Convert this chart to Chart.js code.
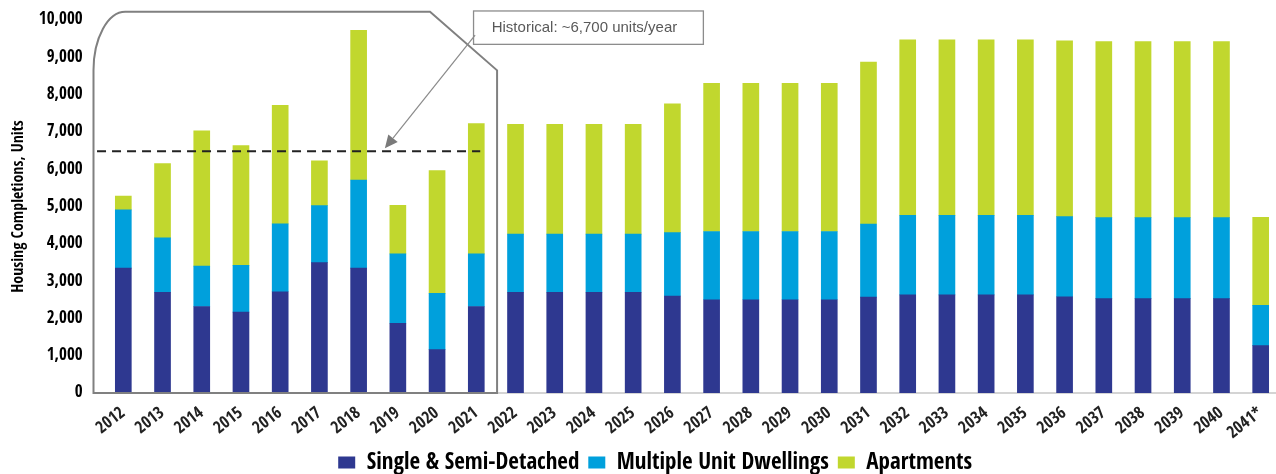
<!DOCTYPE html>
<html>
<head>
<meta charset="utf-8">
<script src="https://cdn.jsdelivr.net/npm/chart.js@4/dist/chart.umd.min.js"></script>
<style>
  html, body { margin: 0; padding: 0; background: #fff; overflow: hidden; }
  #wrap { position: relative; width: 1290px; height: 484px; }
</style>
</head>
<body>
<div id="wrap"><canvas id="c"></canvas></div>
<script>
// ---- data ----
const years = ['2012','2013','2014','2015','2016','2017','2018','2019','2020','2021',
  '2022','2023','2024','2025','2026','2027','2028','2029','2030','2031',
  '2032','2033','2034','2035','2036','2037','2038','2039','2040','2041*'];
const singleSemi = [3350,2700,2320,2170,2715,3495,3350,1870,1165,2320,
  2700,2700,2700,2700,2600,2500,2500,2500,2500,2570,
  2630,2630,2630,2630,2580,2530,2530,2530,2530,1270];
const multipleUnit = [1560,1460,1080,1250,1820,1530,2360,1860,1505,1410,
  1560,1560,1560,1560,1700,1830,1830,1830,1830,1960,
  2130,2130,2130,2130,2150,2170,2170,2170,2170,1080];
const apartments = [370,1990,3630,3210,3180,1200,4010,1300,3290,3490,
  2940,2940,2940,2940,3450,3970,3970,3970,3970,4340,
  4710,4710,4710,4710,4710,4720,4720,4720,4720,2360];
const yTicks = [0,1000,2000,3000,4000,5000,6000,7000,8000,9000,10000];
const historicalAvgLine = 6480;
const annotationText = 'Historical: ~6,700 units/year';
const seriesNames = ['Single & Semi-Detached','Multiple Unit Dwellings','Apartments'];
const seriesColors = ['#2E3890','#00A0DC','#C1D72E'];

const COND = "'Open Sans Condensed', 'Roboto Condensed', 'DejaVu Sans Condensed', sans-serif";

const overlay = {
  id: 'overlay',
  beforeDraw(chart) {
    const lg = chart.legend;
    if (lg && !lg._shifted) { lg.left += 15; lg.right += 15; lg._shifted = true; }
  },
  afterDatasetsDraw(chart) {
    const ctx = chart.ctx;
    const x = chart.scales.x, y = chart.scales.y;
    const step = x.getPixelForValue(1) - x.getPixelForValue(0);
    const xp = (i, f) => x.getPixelForValue(i) + f * step;

    // historical bracket box
    const L = xp(0, -0.76), R = xp(9, 0.53);
    const T = y.getPixelForValue(10220), B = y.getPixelForValue(0);
    const cornerY = y.getPixelForValue(8650);
    const rx = xp(1, -0.95) - L, ry = cornerY - T;
    const chamferX = xp(8, -0.18);
    ctx.save();
    ctx.strokeStyle = '#808080';
    ctx.lineWidth = 2;
    ctx.beginPath();
    ctx.moveTo(L, B);
    ctx.lineTo(L, cornerY);
    ctx.bezierCurveTo(L, cornerY - ry*0.55, L + rx - rx*0.55, T, L + rx, T);
    ctx.lineTo(chamferX, T);
    ctx.lineTo(R, cornerY);
    ctx.lineTo(R, B);
    ctx.closePath();
    ctx.stroke();

    // dashed average line
    const ly = y.getPixelForValue(historicalAvgLine);
    ctx.strokeStyle = '#222';
    ctx.lineWidth = 2;
    ctx.setLineDash([9, 6]);
    ctx.beginPath();
    ctx.moveTo(xp(0, -0.67), ly);
    ctx.lineTo(xp(9, 0.1), ly);
    ctx.stroke();
    ctx.setLineDash([]);

    // annotation box
    const bL = xp(8, 0.93), bR = xp(14, 0.79);
    const bT = y.getPixelForValue(10242), bB = y.getPixelForValue(9347);
    ctx.fillStyle = '#fff';
    ctx.fillRect(bL, bT, bR - bL, bB - bT);
    ctx.strokeStyle = '#8c8c8c';
    ctx.lineWidth = 1.3;
    ctx.strokeRect(bL, bT, bR - bL, bB - bT);
    ctx.fillStyle = '#595959';
    ctx.font = "15px 'Liberation Sans', Arial, sans-serif";
    ctx.textAlign = 'center';
    ctx.textBaseline = 'middle';
    ctx.fillText(annotationText, (bL + bR) / 2 - 4, (bT + bB) / 2);

    // arrow
    const ax0 = xp(8, 0.97), ay0 = y.getPixelForValue(9597);
    const ax1 = xp(6, 0.67), ay1 = y.getPixelForValue(6560);
    const ang = Math.atan2(ay1 - ay0, ax1 - ax0);
    const head = 13, hw = 6;
    ctx.strokeStyle = '#8a8a8a';
    ctx.fillStyle = '#7a7a7a';
    ctx.lineWidth = 1.2;
    ctx.beginPath();
    ctx.moveTo(ax0, ay0);
    ctx.lineTo(ax1 - head * Math.cos(ang), ay1 - head * Math.sin(ang));
    ctx.stroke();
    ctx.beginPath();
    ctx.moveTo(ax1, ay1);
    ctx.lineTo(ax1 - head*Math.cos(ang) + hw*Math.sin(ang), ay1 - head*Math.sin(ang) - hw*Math.cos(ang));
    ctx.lineTo(ax1 - head*Math.cos(ang) - hw*Math.sin(ang), ay1 - head*Math.sin(ang) + hw*Math.cos(ang));
    ctx.closePath();
    ctx.fill();
    ctx.restore();
  }
};

const mk = (i, data) => ({
  label: seriesNames[i], data, backgroundColor: seriesColors[i],
  borderWidth: 0, barThickness: 16, stack: 's'
});

new Chart(document.getElementById('c'), {
  type: 'bar',
  data: {
    labels: years,
    datasets: [mk(0, singleSemi), mk(1, multipleUnit), mk(2, apartments)]
  },
  options: {
    responsive: true,
    maintainAspectRatio: false,
    animation: false,
    layout: { padding: { left: 0, right: 9.7, top: 20, bottom: 0 } },
    plugins: {
      tooltip: { enabled: false },
      legend: {
        position: 'bottom',
        labels: {
          boxWidth: 17, boxHeight: 12, padding: 9, color: '#000',
          font: { family: COND, size: 23 }
        }
      }
    },
    scales: {
      x: {
        stacked: true,
        grid: { display: false, drawTicks: false },
        border: { display: true, color: '#d4d4d4', width: 2 },
        ticks: { color: '#222', font: { family: COND, size: 17 }, minRotation: 38, maxRotation: 38, padding: 10, autoSkip: false },
        afterFit(s) { s.height = 49; }
      },
      y: {
        stacked: true,
        min: 0, max: 10000,
        afterBuildTicks(s) { s.ticks = yTicks.map(v => ({ value: v })); },
        grid: { display: false, drawTicks: true, tickLength: 19 },
        border: { display: false },
        ticks: { color: '#000', font: { family: COND, size: 17 }, padding: 2,
          callback: v => v.toLocaleString('en-US') },
        title: { display: true, text: 'Housing Completions, Units', color: '#000',
          font: { family: COND, size: 16 }, padding: { top: 9, bottom: 0 } },
        afterFit(s) { s.width = 103.7; }
      }
    }
  },
  plugins: [overlay]
});
</script>
</body>
</html>
